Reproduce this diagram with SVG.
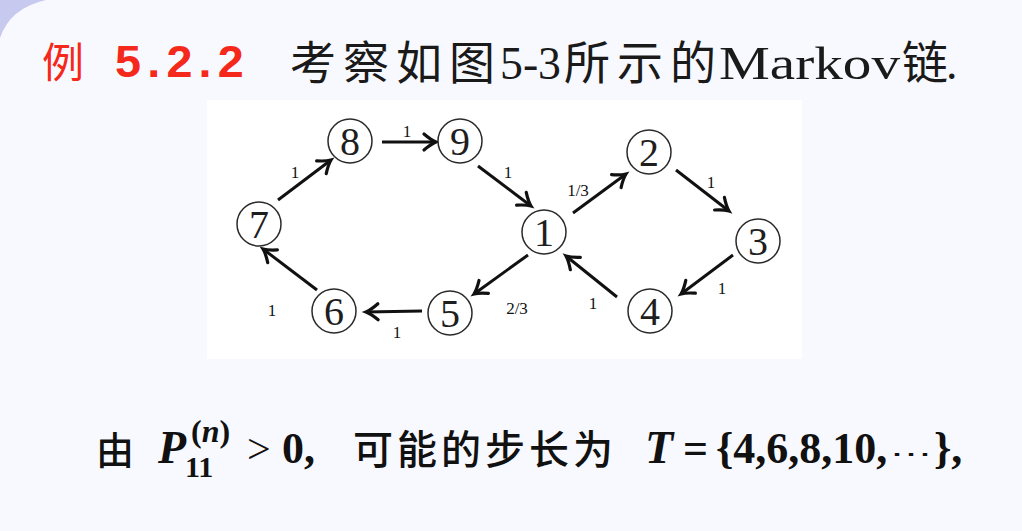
<svg xmlns="http://www.w3.org/2000/svg" width="1022" height="531" viewBox="0 0 1022 531">
<style>
.node circle{fill:#fff;stroke:#2a2a2a;stroke-width:1.5}
.node text{font-family:"Liberation Serif",serif;font-size:40px;fill:#1e1e1e;text-anchor:middle}
.edge{stroke:#111;stroke-width:3;fill:none;marker-end:url(#ah)}
.lbl{font-family:"Liberation Serif",serif;font-size:17px;fill:#111;text-anchor:middle}
.cjk{font-family:"Noto Sans CJK SC",sans-serif}
.ser{font-family:"Liberation Serif",serif}
</style>
<defs>
<marker id="ah" markerUnits="userSpaceOnUse" markerWidth="22" markerHeight="22" refX="0" refY="0" viewBox="-15 -11 17 22" orient="auto">
<path d="M-12,-8 Q-5,-2 0,0 Q-5,2 -12,8" fill="none" stroke="#111" stroke-width="3.2" stroke-linecap="round" stroke-linejoin="miter"/>
</marker>
</defs>
<rect width="1022" height="531" fill="#f8f9fe"/>
<path d="M0,0 L46,0 Q10,8 0,38 Z" fill="#c8c9ef"/>
<rect x="207" y="100" width="595" height="259" fill="#ffffff"/>

<g id="title">
<text x="42" y="78" class="cjk" font-size="42" fill="#f5281c">例</text>
<text x="115" y="77" font-family="Liberation Sans,sans-serif" font-weight="bold" font-size="45" letter-spacing="6" fill="#f5281c" textLength="135" lengthAdjust="spacingAndGlyphs">5.2.2</text>
<text y="79" font-size="46" fill="#1a1a1a">
<tspan x="290" class="cjk" textLength="205" lengthAdjust="spacing">考察如图</tspan><tspan x="500" class="ser" textLength="61" lengthAdjust="spacingAndGlyphs">5-3</tspan><tspan x="564" class="cjk" textLength="152" lengthAdjust="spacing">所示的</tspan><tspan x="719" class="ser" textLength="181" lengthAdjust="spacingAndGlyphs">Markov</tspan><tspan x="902" class="cjk">链</tspan><tspan x="946" class="ser">.</tspan>
</text>
</g>

<g id="connectors">
<line class="edge" x1="278" y1="200" x2="331" y2="160"/>
<line class="edge" x1="382" y1="142" x2="436" y2="142"/>
<line class="edge" x1="478" y1="166" x2="531" y2="206"/>
<line class="edge" x1="573" y1="213" x2="626" y2="174"/>
<line class="edge" x1="676" y1="170" x2="729" y2="211"/>
<line class="edge" x1="733" y1="255" x2="681" y2="294"/>
<line class="edge" x1="617" y1="297" x2="566" y2="256"/>
<line class="edge" x1="528" y1="255" x2="474" y2="294"/>
<line class="edge" x1="422" y1="311" x2="366" y2="312"/>
<line class="edge" x1="317" y1="290" x2="263" y2="249"/>
<text class="lbl" x="295" y="178">1</text>
<text class="lbl" x="407" y="137">1</text>
<text class="lbl" x="508" y="178">1</text>
<text class="lbl" x="578" y="196">1/3</text>
<text class="lbl" x="711" y="188">1</text>
<text class="lbl" x="722" y="294">1</text>
<text class="lbl" x="593" y="309">1</text>
<text class="lbl" x="517" y="314">2/3</text>
<text class="lbl" x="397" y="338">1</text>
<text class="lbl" x="272" y="316">1</text>
</g>

<g id="n1" class="node"><circle cx="544" cy="232" r="22"/><text x="544" y="246">1</text></g>
<g id="n2" class="node"><circle cx="649" cy="152" r="22"/><text x="649" y="166">2</text></g>
<g id="n3" class="node"><circle cx="758" cy="241" r="22"/><text x="758" y="255">3</text></g>
<g id="n4" class="node"><circle cx="650" cy="311" r="22"/><text x="650" y="325">4</text></g>
<g id="n5" class="node"><circle cx="450" cy="313" r="22"/><text x="450" y="327">5</text></g>
<g id="n6" class="node"><circle cx="334" cy="311" r="22"/><text x="334" y="325">6</text></g>
<g id="n7" class="node"><circle cx="259" cy="224" r="22"/><text x="259" y="238">7</text></g>
<g id="n8" class="node"><circle cx="350" cy="141" r="22"/><text x="350" y="155">8</text></g>
<g id="n9" class="node"><circle cx="460" cy="141" r="22"/><text x="460" y="155">9</text></g>

<g id="formula" fill="#111">
<text x="96" y="464" class="cjk" font-size="38" font-weight="500">由</text>
<text x="158" y="463" class="ser" font-size="46" font-weight="bold" font-style="italic">P</text>
<text x="191" y="442" class="ser" font-size="32" font-weight="bold">(<tspan font-style="italic">n</tspan>)</text>
<text x="185" y="477" class="ser" font-size="30" font-weight="bold">11</text>
<text x="247" y="463" class="ser" font-size="42">&gt;</text>
<text x="282" y="463" class="ser" font-size="44" font-weight="bold">0,</text>
<text x="353" y="464" class="cjk" font-size="40" font-weight="500" textLength="260" lengthAdjust="spacing">可能的步长为</text>
<text x="645" y="463" class="ser" font-size="46" font-weight="bold" font-style="italic">T</text>
<text x="683" y="463" class="ser" font-size="44" font-weight="bold">=</text>
<text x="716" y="463" class="ser" font-size="44" font-weight="bold">{4,6,8,10,</text>
<text x="890" y="463" font-family="DejaVu Serif,serif" font-size="28" textLength="42" lengthAdjust="spacingAndGlyphs">⋯</text>
<text x="934" y="463" class="ser" font-size="44" font-weight="bold">},</text>
</g>
</svg>
